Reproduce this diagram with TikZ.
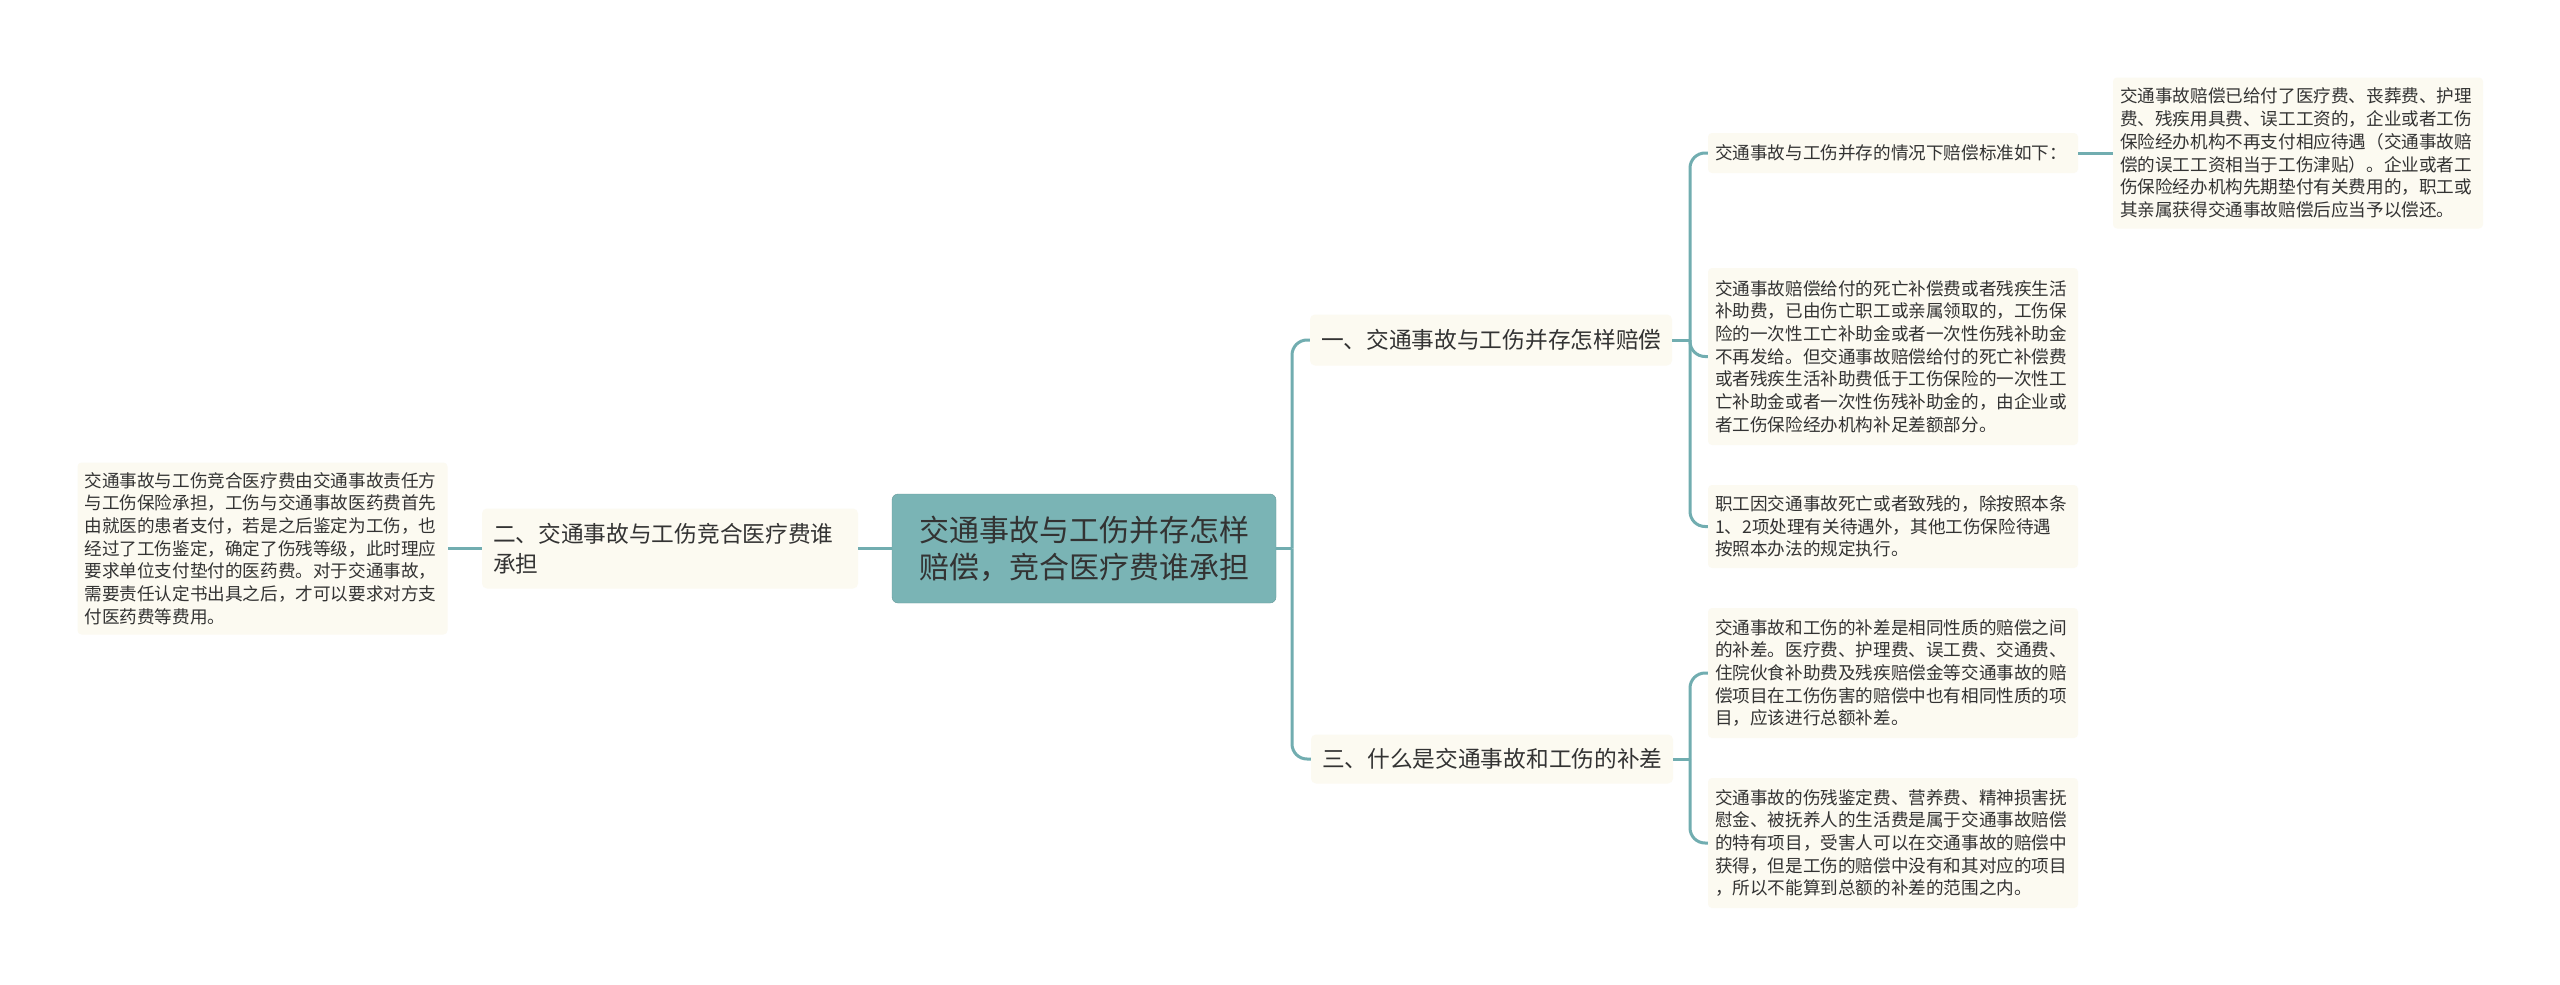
\documentclass[tikz,border=0pt]{standalone}
\usepackage{fontspec}
\newfontfamily\cjk{Noto Sans CJK SC}
\definecolor{mmline}{HTML}{71ADB0}
\definecolor{mmroot}{HTML}{7AB4B5}
\definecolor{mmcream}{HTML}{FCFAF1}
\definecolor{mmtext}{HTML}{333333}
\usetikzlibrary{positioning}

\begin{document}
\begin{tikzpicture}[x=1pt,y=-1pt,
  root/.style={draw=mmroot!85!black,fill=mmroot,rounded corners=6pt,align=center,text width=340pt,
    minimum width=384pt,minimum height=109pt,inner sep=0pt,font=\cjk\fontsize{30}{37}\selectfont,text=mmtext},
  topic/.style={fill=mmcream,rounded corners=5pt,align=left,inner xsep=11pt,inner ysep=0pt,
    font=\cjk\fontsize{22.7}{30}\selectfont,text=mmtext},
  leaf/.style={fill=mmcream,rounded corners=4pt,align=left,text width=356pt,inner xsep=7pt,inner ysep=0pt,
    minimum width=370pt,font=\cjk\fontsize{17.6}{22.7}\selectfont,text=mmtext},
  link/.style={draw=mmline,line width=3pt,rounded corners=15pt}]
  \fill[white] (0,0) rectangle (2560,985);
  \useasboundingbox (0,0) rectangle (2560,985);
  \node[root] (root) at (1084,548.5) {交通事故与工伤并存怎样\\赔偿，竞合医疗费谁承担};
  \node[topic,text width=340pt,minimum height=51pt] (t1) at (1491,340) {一、交通事故与工伤并存怎样赔偿};
  \node[topic,text width=354pt,minimum height=80pt] (t2) at (670,548.5) {二、交通事故与工伤竞合医疗费谁\\承担};
  \node[topic,text width=340pt,minimum height=49pt] (t3) at (1492,759) {三、什么是交通事故和工伤的补差};
  \node[leaf,minimum height=40pt] (s11) at (1893,153) {交通事故与工伤并存的情况下赔偿标准如下：};
  \node[leaf,minimum height=151pt] (s111) at (2298,153) {交通事故赔偿已给付了医疗费、丧葬费、护理\\
    费、残疾用具费、误工工资的，企业或者工伤\\保险经办机构不再支付相应待遇（交通事故赔\\
    偿的误工工资相当于工伤津贴）。企业或者工\\伤保险经办机构先期垫付有关费用的，职工或\\
    其亲属获得交通事故赔偿后应当予以偿还。};
  \node[leaf,minimum height=177pt] (s12) at (1893,356.5) {交通事故赔偿给付的死亡补偿费或者残疾生活\\
    补助费，已由伤亡职工或亲属领取的，工伤保\\险的一次性工亡补助金或者一次性伤残补助金\\
    不再发给。但交通事故赔偿给付的死亡补偿费\\或者残疾生活补助费低于工伤保险的一次性工\\
    亡补助金或者一次性伤残补助金的，由企业或\\者工伤保险经办机构补足差额部分。};
  \node[leaf,minimum height=83pt] (s13) at (1893,526.5) {职工因交通事故死亡或者致残的，除按照本条\\
    1、2项处理有关待遇外，其他工伤保险待遇\\按照本办法的规定执行。};
  \node[leaf,minimum height=130pt] (s31) at (1893,673) {交通事故和工伤的补差是相同性质的赔偿之间\\
    的补差。医疗费、护理费、误工费、交通费、\\住院伙食补助费及残疾赔偿金等交通事故的赔\\
    偿项目在工伤伤害的赔偿中也有相同性质的项\\目，应该进行总额补差。};
  \node[leaf,minimum height=130pt] (s32) at (1893,843) {交通事故的伤残鉴定费、营养费、精神损害抚\\
    慰金、被抚养人的生活费是属于交通事故赔偿\\的特有项目，受害人可以在交通事故的赔偿中\\
    获得，但是工伤的赔偿中没有和其对应的项目\\，所以不能算到总额的补差的范围之内。};
  \node[leaf,minimum height=172pt] (s21) at (262.5,548.5) {交通事故与工伤竞合医疗费由交通事故责任方\\
    与工伤保险承担，工伤与交通事故医药费首先\\由就医的患者支付，若是之后鉴定为工伤，也\\
    经过了工伤鉴定，确定了伤残等级，此时理应\\要求单位支付垫付的医药费。对于交通事故，\\
    需要责任认定书出具之后，才可以要求对方支\\付医药费等费用。};
  \coordinate (j0) at (1292,548.5);
  \coordinate (j1) at (1690,340);
  \coordinate (j3) at (1690,759);
  \draw[link] (root.east) -- (j0);
  \draw[link] (j0) |- (t1.west);
  \draw[link] (j0) |- (t3.west);
  \draw[link] (root.west) -- (t2.east);
  \draw[link] (t2.west) -- (s21.east);
  \draw[link] (t1.east) -- (j1);
  \foreach \n in {s11,s12,s13} \draw[link] (j1) |- (\n.west);
  \draw[link] (t3.east) -- (j3);
  \foreach \n in {s31,s32} \draw[link] (j3) |- (\n.west);
  \draw[link] (s11.east) -- (s111.west);
\end{tikzpicture}
\end{document}
